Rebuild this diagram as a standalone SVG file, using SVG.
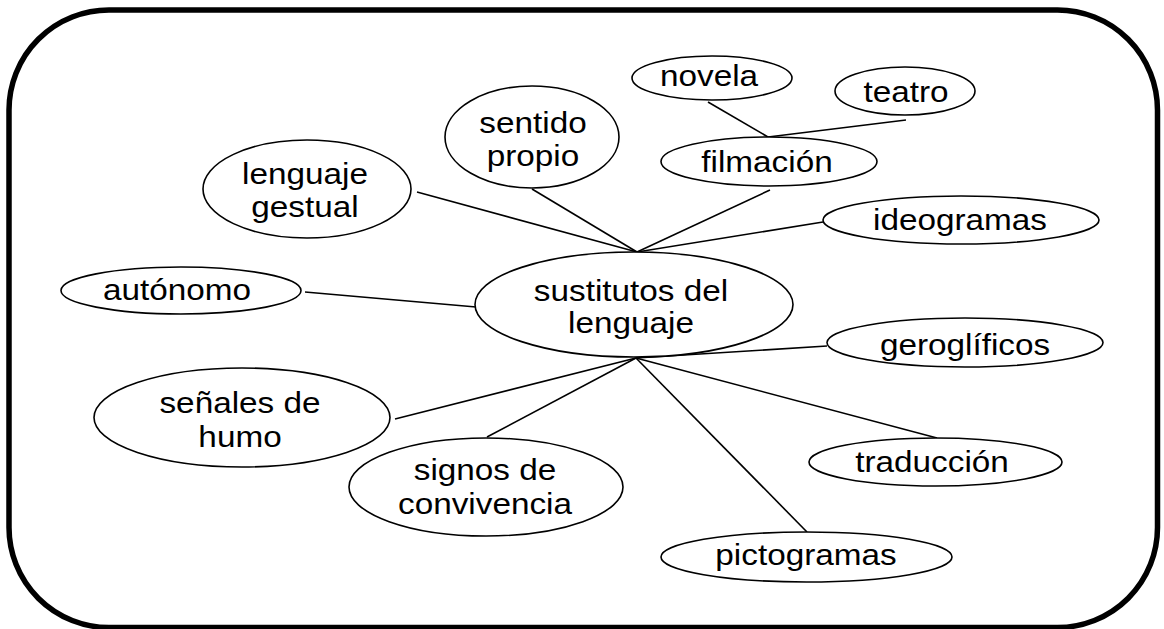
<svg xmlns="http://www.w3.org/2000/svg" width="1164" height="629" viewBox="0 0 1164 629">
<style>
.n ellipse{fill:#fff;stroke:#000;stroke-width:1.6}
.n text{font-family:"Liberation Sans",Arial,sans-serif;font-size:30px;fill:#000;text-anchor:middle}
#connectors line{stroke:#000;stroke-width:1.6}
</style>
<rect x="9" y="10" width="1148.5" height="617.5" rx="100" ry="100" fill="#fff" stroke="#000" stroke-width="5.5"/>
<g id="connectors">
<line x1="417" y1="192" x2="637" y2="252"/>
<line x1="532" y1="189" x2="637" y2="252"/>
<line x1="770" y1="190" x2="637" y2="252"/>
<line x1="823" y1="222" x2="637" y2="252"/>
<line x1="708" y1="102" x2="768" y2="137"/>
<line x1="906" y1="120" x2="768" y2="137"/>
<line x1="305" y1="292" x2="476" y2="307"/>
<line x1="827" y1="346" x2="636" y2="358"/>
<line x1="395" y1="419" x2="636" y2="358"/>
<line x1="487" y1="437" x2="636" y2="358"/>
<line x1="807" y1="532" x2="636" y2="358"/>
<line x1="937" y1="438" x2="636" y2="358"/>
</g>
<g id="n-sustitutos" class="n"><ellipse cx="634" cy="304.5" rx="159" ry="52.5"/><text transform="translate(631,0) scale(1.11,1)" y="301">sustitutos del</text><text transform="translate(631,0) scale(1.11,1)" y="333">lenguaje</text></g>
<g id="n-lenguaje-gestual" class="n"><ellipse cx="307" cy="189" rx="104" ry="49"/><text transform="translate(305,0) scale(1.11,1)" y="184">lenguaje</text><text transform="translate(305,0) scale(1.11,1)" y="217">gestual</text></g>
<g id="n-sentido-propio" class="n"><ellipse cx="532" cy="137" rx="87" ry="51"/><text transform="translate(533,0) scale(1.11,1)" y="133">sentido</text><text transform="translate(533,0) scale(1.11,1)" y="166">propio</text></g>
<g id="n-novela" class="n"><ellipse cx="712" cy="78" rx="80" ry="22"/><text transform="translate(709,0) scale(1.11,1)" y="86">novela</text></g>
<g id="n-teatro" class="n"><ellipse cx="905" cy="91" rx="70" ry="24"/><text transform="translate(906,0) scale(1.11,1)" y="102">teatro</text></g>
<g id="n-filmacion" class="n"><ellipse cx="769" cy="161.5" rx="108" ry="24.5"/><text transform="translate(767,0) scale(1.11,1)" y="172">filmación</text></g>
<g id="n-ideogramas" class="n"><ellipse cx="961" cy="220" rx="138" ry="24"/><text transform="translate(960,0) scale(1.11,1)" y="230">ideogramas</text></g>
<g id="n-autonomo" class="n"><ellipse cx="181" cy="290.5" rx="120" ry="23.5"/><text transform="translate(177,0) scale(1.11,1)" y="300">autónomo</text></g>
<g id="n-geroglificos" class="n"><ellipse cx="965" cy="342.5" rx="138" ry="24.5"/><text transform="translate(965,0) scale(1.11,1)" y="355">geroglíficos</text></g>
<g id="n-senales" class="n"><ellipse cx="242" cy="417.5" rx="148" ry="49.5"/><text transform="translate(240,0) scale(1.11,1)" y="413">señales de</text><text transform="translate(240,0) scale(1.11,1)" y="447">humo</text></g>
<g id="n-signos" class="n"><ellipse cx="486" cy="487" rx="137" ry="49"/><text transform="translate(485,0) scale(1.11,1)" y="480">signos de</text><text transform="translate(485,0) scale(1.11,1)" y="514">convivencia</text></g>
<g id="n-traduccion" class="n"><ellipse cx="935.5" cy="462" rx="126.5" ry="24"/><text transform="translate(932,0) scale(1.11,1)" y="472">traducción</text></g>
<g id="n-pictogramas" class="n"><ellipse cx="806.5" cy="557" rx="145.5" ry="25"/><text transform="translate(806,0) scale(1.11,1)" y="565">pictogramas</text></g>
</svg>
